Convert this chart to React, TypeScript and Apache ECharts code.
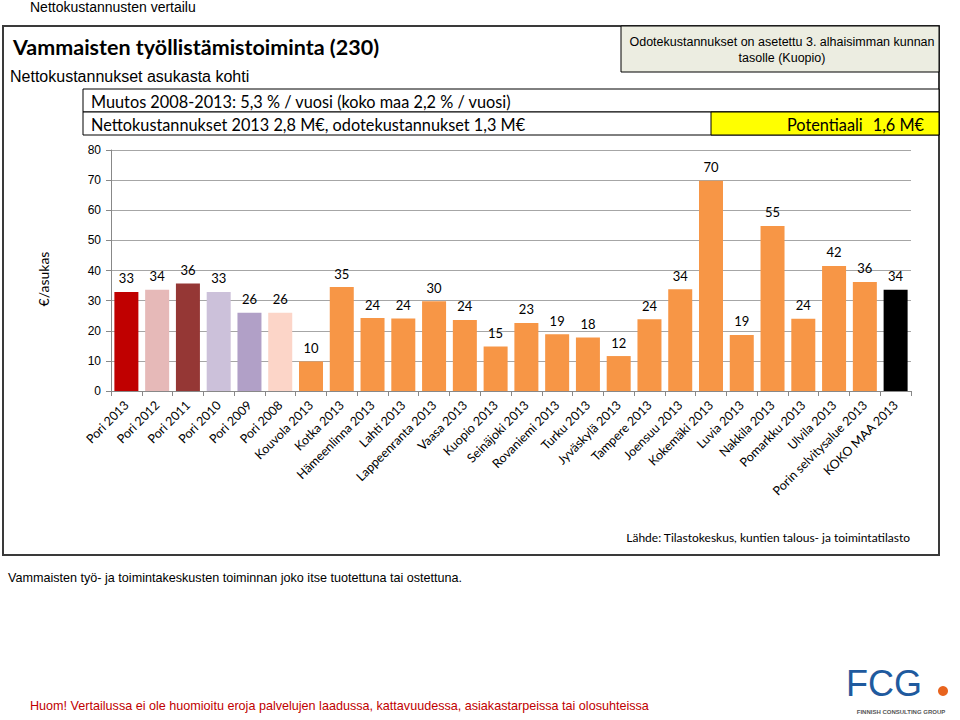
import React, { useEffect, useRef } from "react";
import * as echarts from "echarts";

const categories = [
  "Pori 2013", "Pori 2012", "Pori 2011", "Pori 2010", "Pori 2009", "Pori 2008",
  "Kouvola 2013", "Kotka 2013", "Hämeenlinna 2013", "Lahti 2013", "Lappeenranta 2013",
  "Vaasa 2013", "Kuopio 2013", "Seinäjoki 2013", "Rovaniemi 2013", "Turku 2013",
  "Jyväskylä 2013", "Tampere 2013", "Joensuu 2013", "Kokemäki 2013", "Luvia 2013",
  "Nakkila 2013", "Pomarkku 2013", "Ulvila 2013", "Porin selvitysalue 2013", "KOKO MAA 2013",
];
const values = [
  32.9, 33.6, 35.7, 32.9, 26.0, 26.0, 9.8, 34.5, 24.2, 24.1, 29.8, 23.6, 14.8,
  22.6, 18.8, 17.8, 11.6, 23.8, 33.8, 69.8, 18.6, 54.8, 24.0, 41.5, 36.2, 33.6,
];
const ORANGE = "#F79646";
const barColors = [
  "#C00000", "#E6B9B8", "#953735", "#CCC1DA", "#B1A0C7", "#FCD5C8",
  ORANGE, ORANGE, ORANGE, ORANGE, ORANGE, ORANGE, ORANGE, ORANGE, ORANGE, ORANGE,
  ORANGE, ORANGE, ORANGE, ORANGE, ORANGE, ORANGE, ORANGE, ORANGE, ORANGE, "#000000",
];
const yTicks = { min: 0, max: 80, interval: 10 };

const CAL = "Lato, 'Open Sans', sans-serif";
const ARIAL = "'Liberation Sans', Arial, sans-serif";
const NARROW = "'Liberation Sans Narrow', 'Liberation Sans', sans-serif";

export default function App() {
  const ref = useRef<HTMLDivElement>(null);
  useEffect(() => {
    if (!ref.current) return;
    const chart = echarts.init(ref.current, null, { renderer: "svg" });
    chart.setOption({
      animation: false,
      backgroundColor: "#ffffff",
      grid: { left: 111, right: 49, top: 150, bottom: 329, containLabel: false },
      xAxis: {
        type: "category",
        data: categories,
        axisLine: { lineStyle: { color: "#888888" } },
        axisTick: { show: true, length: 5, lineStyle: { color: "#888888" } },
        axisLabel: {
          interval: 0,
          rotate: 45,
          fontFamily: CAL,
          fontSize: 12.5,
          color: "#000",
          margin: 12,
        },
      },
      yAxis: {
        type: "value",
        min: yTicks.min,
        max: yTicks.max,
        interval: yTicks.interval,
        axisLine: { show: true, lineStyle: { color: "#888888" } },
        axisTick: { show: true, length: 5, lineStyle: { color: "#888888" } },
        axisLabel: { fontFamily: ARIAL, fontSize: 12, color: "#000", margin: 10 },
        splitLine: { lineStyle: { color: "#A6A6A6", width: 1 } },
      },
      series: [
        {
          type: "bar",
          barCategoryGap: "22%",
          data: values.map((v, i) => ({ value: v, itemStyle: { color: barColors[i] } })),
          label: {
            show: true,
            position: "top",
            distance: 7,
            fontFamily: CAL,
            fontSize: 13,
            color: "#000",
            formatter: (p: any) => String(Math.round(p.value)),
          },
        },
      ],
      graphic: [
        { type: "text", left: 30, top: 0, style: { text: "Nettokustannusten vertailu", fontFamily: ARIAL, fontSize: 14, fill: "#000" } },
        { type: "rect", shape: { x: 3, y: 26, width: 936, height: 529 }, style: { fill: "none", stroke: "#3A3A3A", lineWidth: 2 } },
        { type: "text", x: 13, y: 47, style: { text: "Vammaisten työllistämistoiminta (230)", fontFamily: CAL, fontWeight: "bold", fontSize: 21.5, fill: "#000", verticalAlign: "middle" } },
        { type: "text", x: 10, y: 76, style: { text: "Nettokustannukset asukasta kohti", fontFamily: ARIAL, fontSize: 16, fill: "#000", verticalAlign: "middle" } },
        { type: "rect", shape: { x: 621, y: 26, width: 318, height: 46 }, style: { fill: "#ECEDE1", stroke: "#000", lineWidth: 1 } },
        { type: "text", x: 782, y: 42, style: { text: "Odotekustannukset on asetettu 3. alhaisimman kunnan", fontFamily: ARIAL, fontSize: 12.5, fill: "#000", align: "center", verticalAlign: "middle" } },
        { type: "text", x: 782, y: 58, style: { text: "tasolle (Kuopio)", fontFamily: ARIAL, fontSize: 12.5, fill: "#000", align: "center", verticalAlign: "middle" } },
        { type: "rect", shape: { x: 83, y: 89, width: 856, height: 23 }, style: { fill: "#fff", stroke: "#000", lineWidth: 1 } },
        { type: "rect", shape: { x: 83, y: 112, width: 856, height: 23 }, style: { fill: "#fff", stroke: "#000", lineWidth: 1 } },
        { type: "rect", shape: { x: 711, y: 112, width: 228, height: 23 }, style: { fill: "#FFFF00", stroke: "#000", lineWidth: 1 } },
        { type: "text", x: 91, y: 101, style: { text: "Muutos 2008-2013: 5,3 % / vuosi (koko maa 2,2 % / vuosi)", fontFamily: CAL, fontSize: 16.3, fill: "#000", verticalAlign: "middle" } },
        { type: "text", x: 91, y: 124, style: { text: "Nettokustannukset 2013 2,8 M€, odotekustannukset 1,3 M€", fontFamily: CAL, fontSize: 16.3, fill: "#000", verticalAlign: "middle" } },
        { type: "text", x: 787, y: 124, style: { text: "Potentiaali", fontFamily: CAL, fontSize: 16.3, fill: "#000", verticalAlign: "middle" } },
        { type: "text", x: 924, y: 124, style: { text: "1,6 M€", fontFamily: CAL, fontSize: 16.3, fill: "#000", align: "right", verticalAlign: "middle" } },
        { type: "text", x: 43, y: 279, rotation: Math.PI / 2, style: { text: "€/asukas", fontFamily: CAL, fontWeight: "normal", fontSize: 14, fill: "#000", align: "center", verticalAlign: "middle" } },
        { type: "text", x: 910, y: 537, style: { text: "Lähde: Tilastokeskus, kuntien talous- ja toimintatilasto", fontFamily: CAL, fontSize: 12, fill: "#000", align: "right", verticalAlign: "middle" } },
        { type: "text", x: 8, y: 578, style: { text: "Vammaisten työ- ja toimintakeskusten toiminnan joko itse tuotettuna tai ostettuna.", fontFamily: NARROW, fontSize: 12.6, fill: "#000", verticalAlign: "middle" } },
        { type: "text", x: 30, y: 706, style: { text: "Huom! Vertailussa ei ole huomioitu eroja palvelujen laadussa, kattavuudessa, asiakastarpeissa tai olosuhteissa", fontFamily: NARROW, fontSize: 12.6, fill: "#C00000", verticalAlign: "middle" } },
        { type: "text", x: 846, y: 683, style: { text: "FCG", fontFamily: ARIAL, fontSize: 36, fill: "#1F5A9E", verticalAlign: "middle" } },
        { type: "circle", shape: { cx: 943, cy: 691, r: 5 }, style: { fill: "#E8641E" } },
        { type: "text", x: 901, y: 712, style: { text: "FINNISH CONSULTING GROUP", fontFamily: ARIAL, fontWeight: "bold", fontSize: 6, fill: "#555", align: "center", verticalAlign: "middle" } },
      ],
    });
    return () => chart.dispose();
  }, []);
  return (
    <div
      ref={ref}
      style={{ position: "fixed", left: 0, top: 0, width: 960, height: 720, background: "#fff" }}
    />
  );
}
